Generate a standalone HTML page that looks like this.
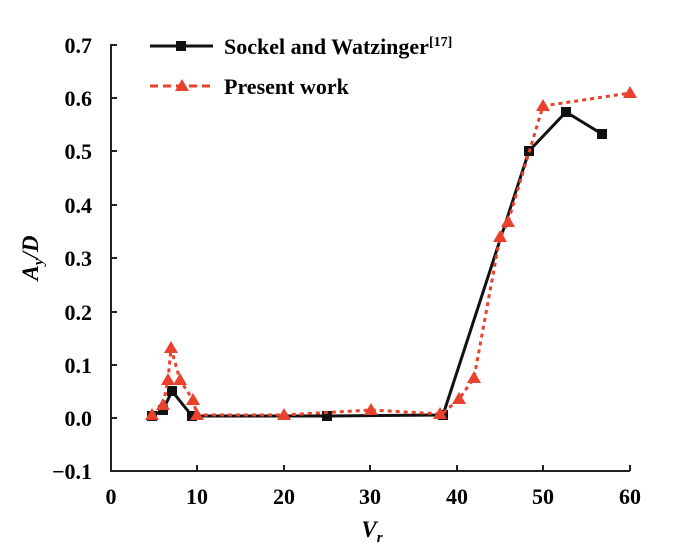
<!DOCTYPE html><html><head><style>body{margin:0;background:#fff}svg text{font-family:"Liberation Serif",serif;font-weight:bold}</style></head><body>
<svg width="700" height="555" xmlns="http://www.w3.org/2000/svg">
<g stroke="#222" stroke-width="2" fill="none">
<path d="M117,45H111V471H630"/>
<path d="M111,98h6M111,151h6M111,205h6M111,258h6M111,312h6M111,365h6M111,418h6"/>
<path d="M197,471v-6M284,471v-6M370,471v-6M457,471v-6M543,471v-6M630,471v-6"/>
</g>
<g font-size="22" text-anchor="end">
<text x="92" y="53">0.7</text><text x="92" y="106">0.6</text><text x="92" y="159">0.5</text><text x="92" y="213">0.4</text><text x="92" y="266">0.3</text><text x="92" y="320">0.2</text><text x="92" y="373">0.1</text><text x="92" y="426">0.0</text><text x="92" y="479">−0.1</text>
</g>
<g font-size="22" text-anchor="middle">
<text x="111" y="504">0</text><text x="197" y="504">10</text><text x="284" y="504">20</text><text x="370" y="504">30</text><text x="457" y="504">40</text><text x="543" y="504">50</text><text x="630" y="504">60</text>
<text x="372" y="537" font-style="italic" font-size="23">V<tspan font-size="15" dy="5">r</tspan></text>
</g>
<text transform="translate(38,258) rotate(-90)" font-size="23" font-style="italic" text-anchor="middle">A<tspan font-size="15" dy="5">y</tspan><tspan dy="-5">/D</tspan></text>
<polyline points="152,416 163,410 172,391 192,416 327,416 443,415 529,151 566,112 602,134" fill="none" stroke="#111" stroke-width="3"/>
<g fill="#111"><rect x="147" y="411" width="10" height="10"/><rect x="158" y="405" width="10" height="10"/><rect x="167" y="386" width="10" height="10"/><rect x="187" y="411" width="10" height="10"/><rect x="322" y="411" width="10" height="10"/><rect x="438" y="410" width="10" height="10"/><rect x="524" y="146" width="10" height="10"/><rect x="561" y="107" width="10" height="10"/><rect x="597" y="129" width="10" height="10"/></g>
<polyline points="152,415 163,405 168,380 171,348 180,380 193,400 197,415 284,415 371,410 442,414 459,399 474,378 500,237 508,222 543,106 630,93" fill="none" stroke="#e8412c" stroke-width="3" stroke-dasharray="4,4"/>
<g fill="#e8412c">
<path d="M0,-7L7,5H-7Z" transform="translate(152,415)"/>
<path d="M0,-7L7,5H-7Z" transform="translate(163,405)"/><path d="M0,-7L7,5H-7Z" transform="translate(168,380)"/><path d="M0,-7L7,5H-7Z" transform="translate(171,348)"/><path d="M0,-7L7,5H-7Z" transform="translate(180,380)"/><path d="M0,-7L7,5H-7Z" transform="translate(193,400)"/><path d="M0,-7L7,5H-7Z" transform="translate(197,415)"/><path d="M0,-7L7,5H-7Z" transform="translate(284,415)"/><path d="M0,-7L7,5H-7Z" transform="translate(371,410)"/><path d="M0,-7L7,5H-7Z" transform="translate(440,414)"/><path d="M0,-7L7,5H-7Z" transform="translate(459,399)"/><path d="M0,-7L7,5H-7Z" transform="translate(474,378)"/><path d="M0,-7L7,5H-7Z" transform="translate(500,237)"/><path d="M0,-7L7,5H-7Z" transform="translate(508,222)"/><path d="M0,-7L7,5H-7Z" transform="translate(543,106)"/><path d="M0,-7L7,5H-7Z" transform="translate(630,93)"/>
</g>
<line x1="150" y1="46" x2="213" y2="46" stroke="#111" stroke-width="3"/><rect x="176" y="41" width="10" height="10" fill="#111"/>
<line x1="150" y1="86" x2="213" y2="86" stroke="#e8412c" stroke-width="3" stroke-dasharray="8,5"/><path d="M0,-7L7,5H-7Z" transform="translate(182,86)" fill="#e8412c"/>
<text x="224" y="54" font-size="22">Sockel and Watzinger<tspan font-size="14" dy="-8">[17]</tspan></text>
<text x="224" y="94" font-size="22">Present work</text>
</svg></body></html>
